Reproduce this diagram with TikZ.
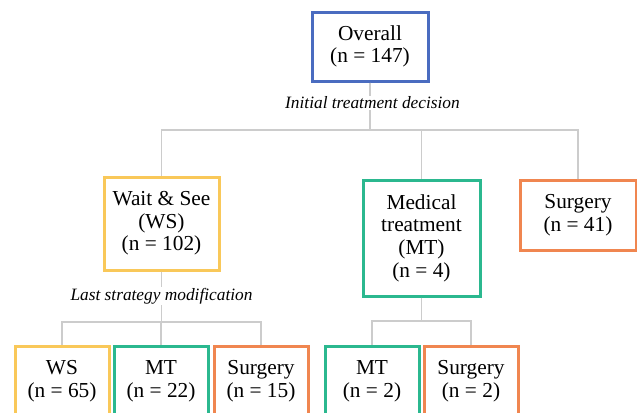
\documentclass[tikz,border=0pt]{standalone}
\usepackage{fontspec}
\setmainfont{Liberation Serif}
\usepackage{tikz}
\definecolor{overallblue}{RGB}{74, 108, 192}
\definecolor{wsyellow}{RGB}{249, 200, 89}
\definecolor{mtgreen}{RGB}{43, 184, 143}
\definecolor{surgorange}{RGB}{240, 134, 80}
\definecolor{linegray}{RGB}{204, 204, 204}
\usetikzlibrary{positioning,calc}

\begin{document}
\begin{tikzpicture}[
    x=0.75pt, y=-0.75pt,
    box/.style={
        rectangle,
        draw,
        line width=2.25pt,
        fill=white,
        inner sep=2pt,
        align=center,
        font=\fontsize{16}{17}\selectfont
    },
    topbox/.style={box, minimum width=87pt, minimum height=52.5pt},
    leafbox/.style={box, minimum width=70.5pt, minimum height=52.5pt},
    link/.style={draw=linegray, line width=1.1pt},
    steplabel/.style={
        fill=white,
        inner sep=1pt,
        font=\fontsize{13}{15}\selectfont\itshape
    }
]
    \useasboundingbox (0,0) rectangle (637,412);
    \clip (0,0) rectangle (637,412);

    % Root
    \node[topbox, draw=overallblue, minimum height=51.75pt] (overall) at (370,46.5) {Overall\\(n = 147)};

    % Initial treatment decision
    \node[box, draw=wsyellow, minimum width=86.25pt, minimum height=69.75pt] (ws) at (161.5,223.5) {Wait \& See\\(WS)\\(n = 102)};
    \node[box, draw=mtgreen, minimum width=87.75pt, minimum height=87pt] (mt) at (421.5,238) {Medical\\treatment\\(MT)\\(n = 4)};
    \node[topbox, draw=surgorange] (surg) at (578,215) {Surgery\\(n = 41)};

    % Last strategy modification
    \node[leafbox, draw=wsyellow] (wsws) at (62,381) {WS\\(n = 65)};
    \node[leafbox, draw=mtgreen] (wsmt) at (161,381) {MT\\(n = 22)};
    \node[leafbox, draw=surgorange] (wssurg) at (261,381) {Surgery\\(n = 15)};
    \node[leafbox, draw=mtgreen] (mtmt) at (372,381) {MT\\(n = 2)};
    \node[leafbox, draw=surgorange] (mtsurg) at (471,381) {Surgery\\(n = 2)};

    % Connectors
    \coordinate (bus1) at (370,130);
    \coordinate (bus2) at (162,322);
    \coordinate (bus3) at (422,321);
    \foreach \child in {ws,mt,surg}
        \draw[link] (overall.south) -- (overall.south |- bus1) -| (\child.north);
    \foreach \child in {wsws,wsmt,wssurg}
        \draw[link] (ws.south) -- (ws.south |- bus2) -| (\child.north);
    \foreach \child in {mtmt,mtsurg}
        \draw[link] (mt.south) -- (mt.south |- bus3) -| (\child.north);

    \node[steplabel] (initlabel) at (372.5,103) {Initial treatment decision};
    \node[steplabel] (lastlabel) at (161.5,296) {Last strategy modification};
\end{tikzpicture}
\end{document}
